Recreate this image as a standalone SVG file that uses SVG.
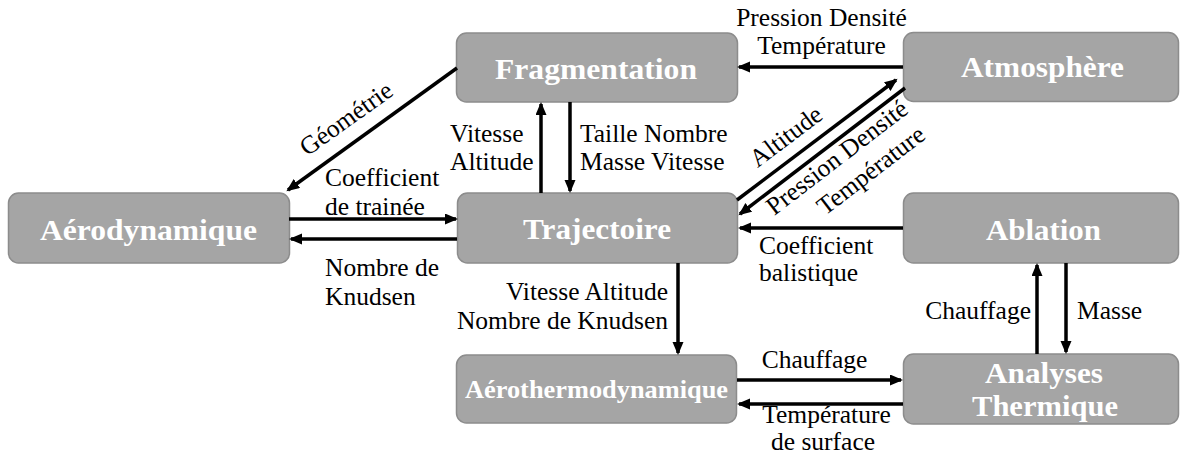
<svg xmlns="http://www.w3.org/2000/svg" width="1180" height="459" viewBox="0 0 1180 459">
<defs>
<marker id="ah" markerUnits="userSpaceOnUse" markerWidth="14" markerHeight="12" refX="11" refY="5.5" orient="auto">
<path d="M0,0 L13,5.5 L0,11 z" fill="#000"/>
</marker>
<style>
.box{fill:#a5a5a5;stroke:#8c8c8c;stroke-width:1.5}
.t{font-family:"Liberation Serif",serif;font-weight:bold;fill:#fff;text-anchor:middle;font-size:30px}
.l{font-family:"Liberation Serif",serif;font-size:25.5px;fill:#000}
.c line{stroke:#000;stroke-width:3.5;marker-end:url(#ah)}
.m{text-anchor:middle}
.e{text-anchor:end}
</style>
</defs>
<rect width="1180" height="459" fill="#fff"/>
<g id="fragmentation"><rect class="box" x="456.5" y="33" width="281" height="69" rx="10"/><text class="t" x="596" y="79" textLength="202" lengthAdjust="spacingAndGlyphs">Fragmentation</text></g>
<g id="atmosphere"><rect class="box" x="903.5" y="32.5" width="275" height="69" rx="10"/><text class="t" x="1042.5" y="77" textLength="163" lengthAdjust="spacingAndGlyphs">Atmosphère</text></g>
<g id="aerodynamique"><rect class="box" x="8.5" y="193" width="281" height="70" rx="10"/><text class="t" x="148.5" y="240" textLength="217" lengthAdjust="spacingAndGlyphs">Aérodynamique</text></g>
<g id="trajectoire"><rect class="box" x="457.5" y="193" width="280" height="70" rx="10"/><text class="t" x="597" y="239" textLength="148" lengthAdjust="spacingAndGlyphs">Trajectoire</text></g>
<g id="ablation"><rect class="box" x="903.5" y="193" width="275" height="70" rx="10"/><text class="t" x="1043.5" y="240" textLength="115" lengthAdjust="spacingAndGlyphs">Ablation</text></g>
<g id="aerothermodynamique"><rect class="box" x="456.5" y="355" width="280" height="68" rx="10"/><text class="t" x="596.5" y="398" style="font-size:26px" textLength="263" lengthAdjust="spacingAndGlyphs">Aérothermodynamique</text></g>
<g id="analyses"><rect class="box" x="903.5" y="354" width="275" height="70" rx="10"/><text class="t" x="1044" y="383" textLength="118" lengthAdjust="spacingAndGlyphs">Analyses</text><text class="t" x="1045" y="416" textLength="146" lengthAdjust="spacingAndGlyphs">Thermique</text></g>
<g id="connectors" class="c">
<line x1="903" y1="67" x2="739" y2="67"/>
<line x1="457" y1="68" x2="288" y2="190"/>
<line x1="289" y1="219" x2="456" y2="219"/>
<line x1="457" y1="239" x2="291" y2="239"/>
<line x1="541" y1="193" x2="541" y2="104"/>
<line x1="570" y1="102" x2="570" y2="191"/>
<line x1="737" y1="200" x2="896" y2="80"/>
<line x1="905" y1="88" x2="740" y2="214"/>
<line x1="903" y1="228" x2="740" y2="228"/>
<line x1="678" y1="263" x2="678" y2="353"/>
<line x1="1037" y1="354" x2="1037" y2="265"/>
<line x1="1066" y1="263" x2="1066" y2="352"/>
<line x1="737" y1="380" x2="901" y2="380"/>
<line x1="903" y1="404" x2="739" y2="404"/>
</g>
<g id="labels">
<text class="l m" x="821.5" y="26">Pression Densité</text>
<text class="l m" x="821.5" y="54">Température</text>
<text class="l m" transform="rotate(-35.5 351 125.5)" x="351" y="125.5">Géométrie</text>
<text class="l" x="325" y="186">Coefficient</text>
<text class="l" x="325" y="215">de trainée</text>
<text class="l" x="325" y="276">Nombre de</text>
<text class="l" x="325" y="305">Knudsen</text>
<text class="l" x="450" y="142">Vitesse</text>
<text class="l" x="450" y="170">Altitude</text>
<text class="l" x="580" y="142">Taille Nombre</text>
<text class="l" x="580" y="170">Masse Vitesse</text>
<text class="l m" transform="rotate(-37 791 143)" x="791" y="143">Altitude</text>
<text class="l m" transform="rotate(-37.5 842 164)" x="842" y="164">Pression Densité</text>
<text class="l m" transform="rotate(-37.5 876 177)" x="876" y="177">Température</text>
<text class="l" x="759" y="254">Coefficient</text>
<text class="l" x="759" y="281">balistique</text>
<text class="l e" x="668" y="300">Vitesse Altitude</text>
<text class="l e" x="668" y="329">Nombre de Knudsen</text>
<text class="l e" x="1031" y="319">Chauffage</text>
<text class="l" x="1077" y="319">Masse</text>
<text class="l m" x="814.5" y="368">Chauffage</text>
<text class="l m" x="826.5" y="423">Température</text>
<text class="l m" x="823" y="450">de surface</text>
</g>
</svg>
